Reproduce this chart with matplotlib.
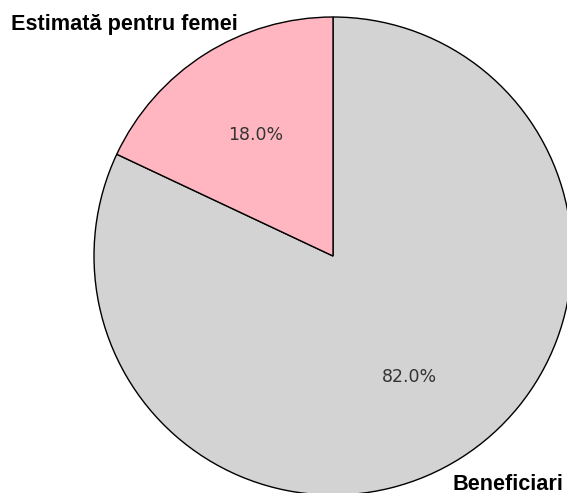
import matplotlib.pyplot as plt

# date
etichete = ['Beneficiari', 'Estimată pentru femei']
procente = [82.0, 18.0]
culori = ['#D3D3D3', '#FFB6C1']

fig = plt.figure(figsize=(5.67, 4.93), dpi=100)
# pozitie fixa: cercul iese putin din imagine jos si in dreapta, ca in original
ax = fig.add_axes([0.1658, -0.0041, 0.843, 0.9696])

wedges, texte, pct = ax.pie(
    procente,
    labels=etichete,
    colors=culori,
    autopct='%1.1f%%',
    startangle=90,
    counterclock=False,
    pctdistance=0.6,
    wedgeprops={'edgecolor': 'black', 'linewidth': 1.0},
    textprops={'fontsize': 12.5, 'color': '#333333'},
)

# etichetele de categorie: bold, pozitionate ca in imagine
poz_etichete = [(0.50, -0.954, 'left'), (-0.40, 0.967, 'right')]
for t, (x, y, ha) in zip(texte, poz_etichete):
    t.set_position((x, y))
    t.set_ha(ha)
    t.set_va('center')
    t.set_fontsize(15.6)
    t.set_fontweight('bold')
    t.set_family('Liberation Sans')
    t.set_color('black')

ax.set_xlim(-1, 1)
ax.set_ylim(-1, 1)
ax.set_aspect('auto')
ax.axis('off')

fig.savefig('out.png', dpi=100)
